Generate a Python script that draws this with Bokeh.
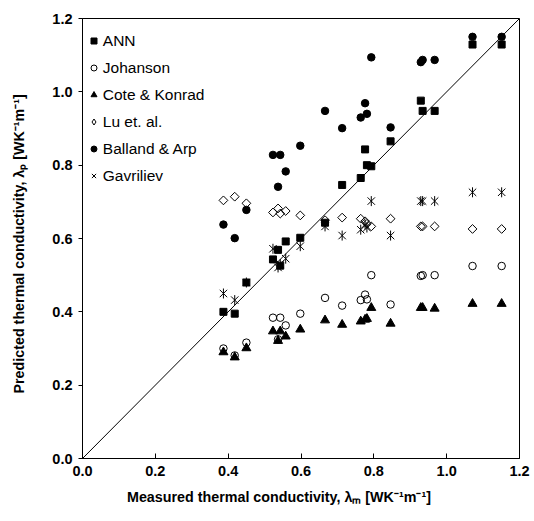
import math
from bokeh.plotting import figure
from bokeh.models import (Range1d, Legend, LegendItem, Title, FixedTicker,
                          NumeralTickFormatter, ColumnDataSource)
from bokeh.embed import file_html
from bokeh.resources import INLINE

# ---- data ----
measured = [0.387, 0.418, 0.450, 0.523, 0.537, 0.543, 0.558, 0.598, 0.666, 0.713,
            0.764, 0.776, 0.781, 0.793, 0.846, 0.929, 0.934, 0.967, 1.071, 1.151]
ann = [0.400, 0.395, 0.480, 0.543, 0.569, 0.526, 0.592, 0.602, 0.643, 0.746,
       0.765, 0.843, 0.800, 0.797, 0.865, 0.976, 0.948, 0.948, 1.129, 1.129]
johanson = [0.300, 0.281, 0.316, 0.384, 0.325, 0.384, 0.363, 0.395, 0.438, 0.417,
            0.432, 0.447, 0.434, 0.500, 0.420, 0.498, 0.500, 0.500, 0.525, 0.525]
cote_konrad = [0.290, 0.276, 0.301, 0.347, 0.321, 0.347, 0.333, 0.352, 0.377, 0.365,
               0.374, 0.379, 0.381, 0.411, 0.368, 0.411, 0.411, 0.409, 0.422, 0.422]
lu = [0.704, 0.714, 0.696, 0.671, 0.682, 0.668, 0.675, 0.663, 0.650, 0.657,
      0.654, 0.647, 0.640, 0.633, 0.654, 0.633, 0.633, 0.633, 0.626, 0.626]
balland_arp = [0.638, 0.601, 0.678, 0.828, 0.741, 0.828, 0.783, 0.853, 0.948, 0.901,
               0.930, 0.969, 0.940, 1.094, 0.903, 1.081, 1.087, 1.087, 1.150, 1.150]
gavriliev = [0.450, 0.432, 0.480, 0.572, 0.521, 0.530, 0.545, 0.579, 0.633, 0.608,
             0.624, 0.638, 0.630, 0.702, 0.608, 0.702, 0.702, 0.702, 0.726, 0.726]

series_names = ["ANN", "Johanson", "Cote & Konrad", "Lu et. al.", "Balland & Arp", "Gavriliev"]
axis_limits = [0.0, 1.2]
tick_values = [0.0, 0.2, 0.4, 0.6, 0.8, 1.0, 1.2]
x_title = "Measured thermal conductivity, λₘ [WK⁻¹m⁻¹]"
y_title = "Predicted thermal conductivity, λₚ [WK⁻¹m⁻¹]"

FONT = "Liberation Sans"

src = ColumnDataSource(dict(x=measured, ann=ann, joh=johanson, cote=cote_konrad,
                            lu=lu, bal=balland_arp, gav=gavriliev))

p = figure(width=530, height=516, output_backend="svg", toolbar_location=None,
           x_range=Range1d(*axis_limits), y_range=Range1d(*axis_limits),
           min_border_left=82, min_border_right=11, min_border_top=18, min_border_bottom=58)
p.background_fill_color = "white"
p.border_fill_color = "white"
p.outline_line_color = "black"
p.outline_line_width = 1
p.grid.visible = False

for ax in (p.xaxis, p.yaxis):
    ax.ticker = FixedTicker(ticks=tick_values)
    ax.formatter = NumeralTickFormatter(format="0.0")
    ax.major_label_text_font = FONT
    ax.major_label_text_font_style = "bold"
    ax.major_label_text_font_size = "14.5px"
    ax.major_label_text_color = "black"
    ax.axis_line_color = "black"
    ax.major_tick_line_color = "black"
    ax.minor_tick_line_color = None

p.xaxis.major_tick_in = 5
p.xaxis.major_tick_out = 0
p.xaxis.major_label_standoff = 7
p.yaxis.major_tick_in = 0
p.yaxis.major_tick_out = 4
p.yaxis.major_label_standoff = 6
# blank spacer label so the y title sits at the reference distance
p.yaxis.axis_label = " "
p.yaxis.axis_label_standoff = 3
p.yaxis.axis_label_text_font_size = "14.3px"

# 1:1 line
p.line(axis_limits, axis_limits, line_color="black", line_width=1)

r_ann = p.scatter("x", "ann", source=src, marker="square", size=7,
                  fill_color="black", line_color="black")
r_joh = p.scatter("x", "joh", source=src, marker="circle", size=7.5,
                  fill_alpha=0, line_color="black", line_width=1)
r_cote = p.scatter("x", "cote", source=src, marker="triangle", size=9,
                   fill_color="black", line_color="black")
p.scatter("x", "lu", source=src, marker="square", size=6.2, angle=math.pi / 4,
          fill_alpha=0, line_color="black", line_width=1)
r_bal = p.scatter("x", "bal", source=src, marker="circle", size=7.5,
                  fill_color="black", line_color="black")
r_gav = p.scatter("x", "gav", source=src, marker="x", size=10.5,
                  line_color="black", line_width=1)
p.scatter("x", "gav", source=src, marker="dash", size=10, angle=math.pi / 2,
          line_color="black", line_width=1)
# legend key for the diamond marker (hidden renderer, the data are drawn above)
r_lu_key = p.scatter("x", "lu", source=src, marker="diamond", size=9,
                     fill_alpha=0, line_color="black", line_width=1, visible=False)

legend = Legend(
    items=[LegendItem(label=n, renderers=[r]) for n, r in
           zip(series_names, [r_ann, r_joh, r_cote, r_lu_key, r_bal, r_gav])],
    location=(3.8, 273.3), glyph_width=15, glyph_height=15, label_height=15,
    spacing=9, padding=0, margin=0, label_standoff=2,
    label_text_font=FONT, label_text_font_size="15.5px", label_text_color="black",
    border_line_color=None, background_fill_alpha=0, inactive_fill_alpha=0)
p.add_layout(legend)

p.add_layout(Title(text=x_title, align="left", offset=44.5, vertical_align="middle",
                   standoff=19, text_font=FONT, text_font_style="bold",
                   text_font_size="14.3px", text_color="black"), "below")
p.add_layout(Title(text=y_title, align="left", offset=65, vertical_align="middle",
                   standoff=0, text_font=FONT, text_font_style="bold",
                   text_font_size="14.3px", text_color="black"), "left")

open("out.html", "w").write(file_html(p, INLINE))
